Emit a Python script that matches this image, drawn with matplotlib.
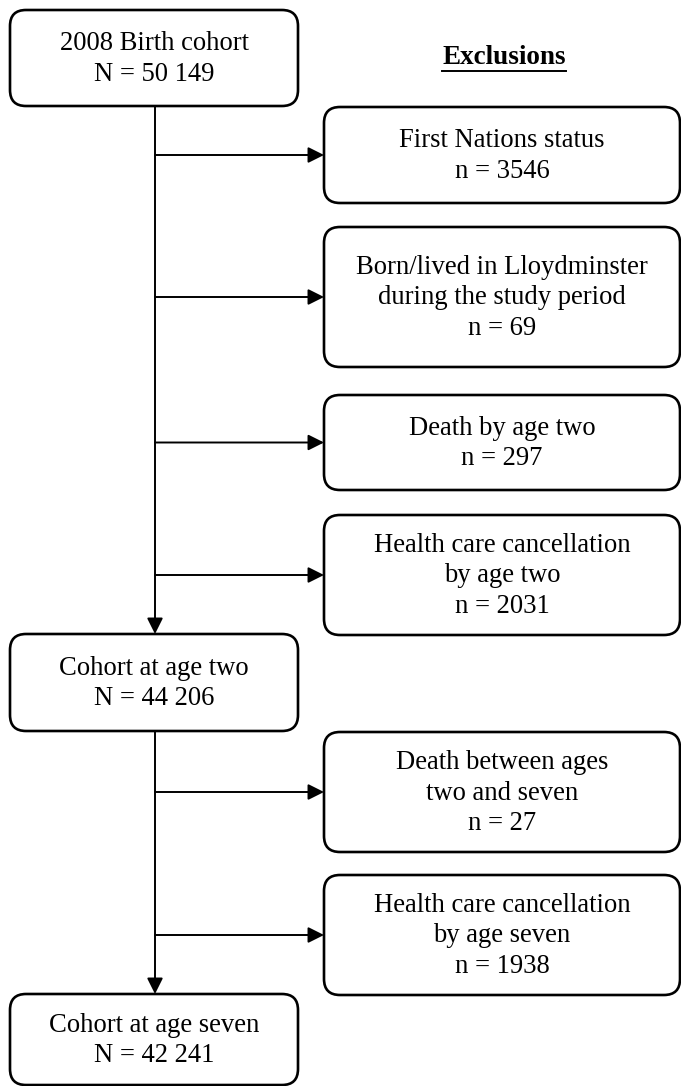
import matplotlib
matplotlib.use("Agg")
import matplotlib.pyplot as plt
from matplotlib.patches import FancyBboxPatch

plt.rcParams['font.family'] = ['Liberation Serif', 'DejaVu Serif']

# flowchart content
main_labels = ["2008 Birth cohort", "Cohort at age two", "Cohort at age seven"]
main_counts = ["50 149", "44 206", "42 241"]
excl_labels = ["First Nations status",
               "Born/lived in Lloydminster\nduring the study period",
               "Death by age two",
               "Health care cancellation\nby age two",
               "Death between ages\ntwo and seven",
               "Health care cancellation\nby age seven"]
excl_counts = ["3546", "69", "297", "2031", "27", "1938"]

# layout in pixels (top, bottom)
main_y = [(10, 106), (634, 731), (994, 1085)]
excl_y = [(107, 203), (227, 367), (395, 490), (515, 635), (732, 852), (875, 995)]
main_x = (10, 298)
excl_x = (324, 680)
spine_x = 155

fig = plt.figure(figsize=(6.81, 10.86), dpi=100)
ax = fig.add_axes([0, 0, 1, 1])
ax.set_xlim(0, 681)
ax.set_ylim(1086, 0)
ax.axis('off')

def box(x0, x1, y0, y1, text):
    p = FancyBboxPatch((x0, y0), x1 - x0, y1 - y0,
                       boxstyle="round,pad=0,rounding_size=16",
                       fc='white', ec='black', lw=1.9, zorder=3)
    ax.add_patch(p)
    ax.text((x0 + x1) / 2, (y0 + y1) / 2 + 1, text, ha='center', va='center',
            fontsize=19.2, linespacing=1.3, zorder=4)

def arrow(x0, y0, x1, y1):
    ax.annotate("", xy=(x1, y1), xytext=(x0, y0), zorder=2,
                arrowprops=dict(arrowstyle='-|>', mutation_scale=24, lw=1.4,
                                color='#3a3a3a', fc='black', ec='black',
                                shrinkA=0, shrinkB=0))

for (y0, y1), lab, n in zip(main_y, main_labels, main_counts):
    box(main_x[0], main_x[1], y0, y1, lab + "\nN = " + n)

for (y0, y1), lab, n in zip(excl_y, excl_labels, excl_counts):
    box(excl_x[0], excl_x[1], y0, y1, lab + "\nn = " + n)
    arrow(spine_x, (y0 + y1) / 2, excl_x[0], (y0 + y1) / 2)

# vertical flow
for i in range(len(main_y) - 1):
    arrow(spine_x, main_y[i][1], spine_x, main_y[i + 1][0])

# heading with underline
t = ax.text(504, 57, "Exclusions", ha='center', va='center', fontsize=19.5,
            fontweight='bold')
fig.canvas.draw()
bb = t.get_window_extent().transformed(ax.transData.inverted())
ax.plot([bb.x0, bb.x1], [71, 71], color='black', lw=1.4)

fig.savefig("out.png", dpi=100)
